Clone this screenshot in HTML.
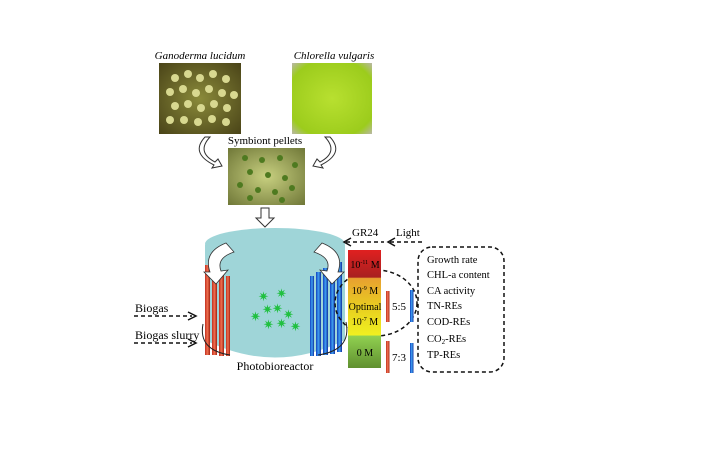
<!DOCTYPE html>
<html><head><style>
body{margin:0;background:#fff;}
svg text{font-family:"Liberation Serif",serif;}
</style></head><body>
<svg width="704" height="455" viewBox="0 0 704 455" xmlns="http://www.w3.org/2000/svg">
<defs>
<radialGradient id="gano" cx="50%" cy="50%" r="70%"><stop offset="0" stop-color="#8a8a3a"/><stop offset="1" stop-color="#4a4418"/></radialGradient>
<radialGradient id="chlo" cx="50%" cy="50%" r="70%"><stop offset="0" stop-color="#b8e030"/><stop offset="0.8" stop-color="#9ccc1c"/><stop offset="1" stop-color="#b8b8a0"/></radialGradient>
<radialGradient id="pel" cx="50%" cy="50%" r="70%"><stop offset="0" stop-color="#c8d080"/><stop offset="1" stop-color="#707838"/></radialGradient>
<linearGradient id="bar" x1="0" y1="0" x2="0" y2="1">
<stop offset="0" stop-color="#e02020"/><stop offset="0.23" stop-color="#a82020"/>
<stop offset="0.24" stop-color="#e8a030"/><stop offset="0.5" stop-color="#e8d020"/><stop offset="0.72" stop-color="#f0f020"/>
<stop offset="0.73" stop-color="#90d050"/><stop offset="1" stop-color="#609030"/></linearGradient>
<linearGradient id="red" x1="0" x2="1"><stop offset="0" stop-color="#c03020"/><stop offset="0.5" stop-color="#f07050"/><stop offset="1" stop-color="#a02010"/></linearGradient>
<linearGradient id="blue" x1="0" x2="1"><stop offset="0" stop-color="#1040c0"/><stop offset="0.5" stop-color="#40a0f0"/><stop offset="1" stop-color="#1030a0"/></linearGradient>
</defs>
<text x="200" y="59" font-size="11" font-style="italic" text-anchor="middle">Ganoderma lucidum</text>
<text x="334" y="59" font-size="11" font-style="italic" text-anchor="middle">Chlorella vulgaris</text>
<rect x="159" y="63" width="82" height="71" fill="url(#gano)"/>
<g fill="#d8d890">
<circle cx="175" cy="78" r="4"/><circle cx="188" cy="74" r="4"/><circle cx="200" cy="78" r="4"/><circle cx="213" cy="74" r="4"/><circle cx="226" cy="79" r="4"/>
<circle cx="170" cy="92" r="4"/><circle cx="183" cy="89" r="4"/><circle cx="196" cy="93" r="4"/><circle cx="209" cy="89" r="4"/><circle cx="222" cy="93" r="4"/><circle cx="234" cy="95" r="4"/>
<circle cx="175" cy="106" r="4"/><circle cx="188" cy="104" r="4"/><circle cx="201" cy="108" r="4"/><circle cx="214" cy="104" r="4"/><circle cx="227" cy="108" r="4"/>
<circle cx="170" cy="120" r="4"/><circle cx="184" cy="120" r="4"/><circle cx="198" cy="122" r="4"/><circle cx="212" cy="119" r="4"/><circle cx="226" cy="122" r="4"/>
</g>
<rect x="292" y="63" width="80" height="71" fill="url(#chlo)"/>
<text x="265" y="144" font-size="11" text-anchor="middle">Symbiont pellets</text>
<rect x="228" y="148" width="77" height="57" fill="url(#pel)"/>
<g fill="#4e7a20">
<circle cx="245" cy="158" r="3"/><circle cx="262" cy="160" r="3"/><circle cx="280" cy="158" r="3"/><circle cx="295" cy="165" r="3"/><circle cx="250" cy="172" r="3"/><circle cx="268" cy="175" r="3"/><circle cx="285" cy="178" r="3"/><circle cx="240" cy="185" r="3"/><circle cx="258" cy="190" r="3"/><circle cx="275" cy="192" r="3"/><circle cx="292" cy="188" r="3"/><circle cx="250" cy="198" r="3"/><circle cx="282" cy="200" r="3"/>
</g>
<g fill="none" stroke="#333" stroke-width="1">
<path d="M210 137 Q196 152 215 162 L218 159 L222 166 L212 168 L214 165 Q190 153 205 137 Z" fill="#fff"/>
<path d="M325 137 Q339 152 320 162 L317 159 L313 166 L323 168 L321 165 Q345 153 330 137 Z" fill="#fff"/>
<path d="M261 208 h8 v10 h5 l-9 9 l-9 -9 h5 z" fill="#fff"/>
</g>
<!-- reactor -->
<path d="M205 245 L205 340 Q275 375 345 340 L345 245 Z" fill="#9fd5d8"/>
<ellipse cx="275" cy="244" rx="70" ry="16" fill="#9fd5d8"/>
<g>
<rect x="205" y="265" width="5" height="90" fill="url(#red)"/><rect x="212" y="268" width="5" height="87" fill="url(#red)"/><rect x="219" y="272" width="5" height="84" fill="url(#red)"/><rect x="226" y="276" width="4" height="80" fill="url(#red)"/>
<rect x="310" y="276" width="4" height="80" fill="url(#blue)"/><rect x="316" y="272" width="5" height="84" fill="url(#blue)"/><rect x="323" y="268" width="5" height="87" fill="url(#blue)"/><rect x="330" y="264" width="5" height="90" fill="url(#blue)"/><rect x="337" y="262" width="5" height="90" fill="url(#blue)"/>
</g>
<path d="M226 243 Q203 252 210 272 L204 272 L216 284 L228 270 L221 271 Q216 258 234 252 Z" fill="#fff" stroke="#333" stroke-width="0.8"/>
<path d="M322 243 Q345 252 338 272 L344 272 L332 284 L320 270 L327 271 Q332 258 314 252 Z" fill="#fff" stroke="#333" stroke-width="0.8"/>
<path d="M203 324 Q198 350 230 355" fill="none" stroke="#222" stroke-width="1"/>
<path d="M346 322 Q352 350 318 355" fill="none" stroke="#222" stroke-width="1"/>
<g font-size="13" fill="#20c040" font-family="DejaVu Sans">
<text x="258" y="301">✷</text><text x="276" y="298">✷</text><text x="262" y="314">✷</text><text x="272" y="313">✷</text><text x="283" y="319">✷</text><text x="250" y="321">✷</text><text x="263" y="329">✷</text><text x="276" y="328">✷</text><text x="290" y="331">✷</text>
</g>
<text x="275" y="370" font-size="12" text-anchor="middle">Photobioreactor</text>
<g stroke="#111" stroke-width="1.5" stroke-dasharray="4,3" fill="none">
<line x1="134" y1="316" x2="192" y2="316"/><line x1="134" y1="343" x2="192" y2="343"/>
<line x1="346" y1="242" x2="384" y2="242"/><line x1="390" y1="242" x2="422" y2="242"/>
<ellipse cx="376" cy="303" rx="41" ry="33"/>
<rect x="418" y="247" width="86" height="125" rx="14"/>
</g>
<g fill="none" stroke="#111" stroke-width="1.5">
<path d="M188 312 L196 316 L188 320"/><path d="M188 339 L196 343 L188 347"/>
<path d="M351 238 L344 242 L351 246"/><path d="M395 238 L388 242 L395 246"/>
</g>
<text x="135" y="312" font-size="12">Biogas</text>
<text x="135" y="339" font-size="12">Biogas slurry</text>
<text x="352" y="236" font-size="11">GR24</text>
<text x="396" y="236" font-size="11">Light</text>
<rect x="348" y="250" width="33" height="118" fill="url(#bar)"/>
<g font-size="10" text-anchor="middle">
<text x="365" y="268">10<tspan font-size="6" dy="-4">-11</tspan><tspan dy="4"> M</tspan></text>
<text x="365" y="294">10<tspan font-size="6" dy="-4">-9</tspan><tspan dy="4"> M</tspan></text>
<text x="365" y="310">Optimal</text>
<text x="365" y="325">10<tspan font-size="6" dy="-4">-7</tspan><tspan dy="4"> M</tspan></text>
<text x="365" y="356">0 M</text>
</g>
<rect x="386" y="291" width="3.5" height="31" fill="url(#red)"/>
<rect x="410" y="290" width="3.5" height="32" fill="url(#blue)"/>
<rect x="386" y="341" width="3.5" height="32" fill="url(#red)"/>
<rect x="410" y="343" width="3.5" height="30" fill="url(#blue)"/>
<text x="392" y="310" font-size="11">5:5</text>
<text x="392" y="361" font-size="11">7:3</text>
<g font-size="10.5">
<text x="427" y="263">Growth rate</text>
<text x="427" y="278">CHL-a content</text>
<text x="427" y="294">CA activity</text>
<text x="427" y="309">TN-REs</text>
<text x="427" y="325">COD-REs</text>
<text x="427" y="342">CO<tspan font-size="7" dy="2">2</tspan><tspan dy="-2">-REs</tspan></text>
<text x="427" y="358">TP-REs</text>
</g>
</svg>
</body></html>
